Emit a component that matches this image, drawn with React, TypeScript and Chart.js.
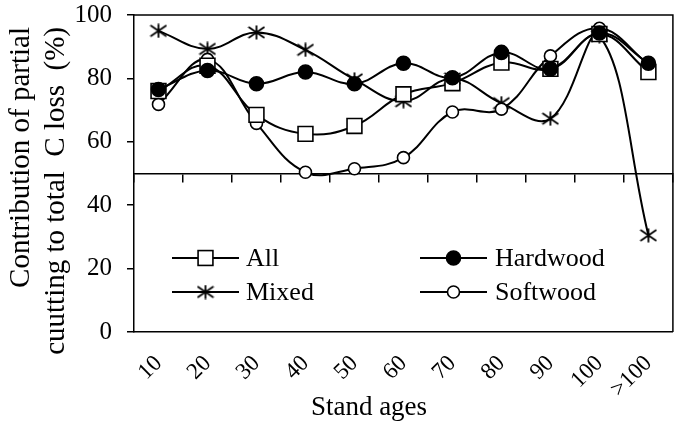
import React, { useEffect, useRef } from 'react';
import { Chart, registerables } from 'chart.js';

Chart.register(...registerables);

// ---- data ----
const categories = ['10', '20', '30', '40', '50', '60', '70', '80', '90', '100', '>100'];
const allValues = [76, 84, 68.5, 62.5, 65, 75, 78.5, 85, 83, 94, 82];
const hardwoodValues = [76.5, 82.5, 78.3, 82, 78.3, 84.8, 80.2, 88.2, 83, 94.3, 84.8];
const mixedValues = [95, 89.3, 94.5, 89, 79.7, 72.8, 80, 72.2, 67.3, 93.3, 30.5];
const softwoodValues = [71.8, 86, 65.8, 50.4, 51.5, 55, 69.4, 70.3, 87.1, 95.8, 84.5];
const seriesNames = ['All', 'Hardwood', 'Mixed', 'Softwood'];
const yTicks = [0, 20, 40, 60, 80, 100];
const axisCrossValue = 50;
const yTitle = ['Contribution of partial', 'cuutting to total  C loss  (%)'];
const xTitle = 'Stand ages';

const FONT = "'Liberation Serif', 'Times New Roman', serif";

function makeAsterisk(): HTMLCanvasElement {
  const c = document.createElement('canvas');
  c.width = 18;
  c.height = 15;
  const g = c.getContext('2d')!;
  g.strokeStyle = '#000';
  g.lineWidth = 1.8;
  g.beginPath();
  g.moveTo(9, 0.5);
  g.lineTo(9, 14.5);
  g.moveTo(1, 2);
  g.lineTo(17, 13);
  g.moveTo(1, 13);
  g.lineTo(17, 2);
  g.stroke();
  return c;
}

function drawMarker(ctx: CanvasRenderingContext2D, ds: any, x: number, y: number) {
  const style = ds.pointStyle;
  const r = ds.pointRadius;
  ctx.save();
  ctx.lineWidth = ds.pointBorderWidth;
  ctx.strokeStyle = '#000';
  ctx.fillStyle = ds.pointBackgroundColor;
  if (style === 'rect') {
    const s = r * Math.SQRT1_2;
    ctx.fillRect(x - s, y - s, 2 * s, 2 * s);
    ctx.strokeRect(x - s, y - s, 2 * s, 2 * s);
  } else if (style === 'circle') {
    ctx.beginPath();
    ctx.arc(x, y, r, 0, Math.PI * 2);
    ctx.fill();
    ctx.stroke();
  } else if (style && typeof style === 'object') {
    ctx.drawImage(style, x - style.width / 2, y - style.height / 2);
  }
  ctx.restore();
}

const framePlugin = {
  id: 'frame',
  beforeDatasetsDraw(chart: any) {
    const { ctx, chartArea } = chart;
    ctx.save();
    ctx.strokeStyle = '#000';
    ctx.lineWidth = 1.5;
    ctx.beginPath();
    ctx.moveTo(chartArea.left, chartArea.top);
    ctx.lineTo(chartArea.right, chartArea.top);
    ctx.lineTo(chartArea.right, chartArea.bottom);
    ctx.stroke();
    ctx.restore();
  },
};

const axisTitlesPlugin = {
  id: 'axisTitles',
  afterDraw(chart: any) {
    const { ctx, chartArea } = chart;
    ctx.save();
    ctx.fillStyle = '#000';
    // x title
    ctx.font = `27px ${FONT}`;
    ctx.textAlign = 'center';
    ctx.textBaseline = 'middle';
    ctx.fillText(xTitle, chartArea.left + 235, chartArea.bottom + 76);
    // y title (rotated, lines right-aligned towards the top)
    ctx.font = `29px ${FONT}`;
    ctx.textAlign = 'right';
    const lineXs = [21, 56];
    yTitle.forEach((line, i) => {
      ctx.save();
      ctx.translate(lineXs[i], chartArea.top + 12);
      ctx.rotate(-Math.PI / 2);
      ctx.fillText(line, 0, 0);
      ctx.restore();
    });
    ctx.restore();
  },
};

const insideLegendPlugin = {
  id: 'insideLegend',
  afterDatasetsDraw(chart: any) {
    const { ctx, chartArea } = chart;
    const colLine = [
      [38, 105],
      [286, 353],
    ];
    const colText = [112, 361];
    const rowY = [243, 277];
    chart.data.datasets.forEach((ds: any, i: number) => {
      const col = i % 2;
      const row = Math.floor(i / 2);
      const y = chartArea.top + rowY[row];
      const x0 = chartArea.left + colLine[col][0];
      const x1 = chartArea.left + colLine[col][1];
      ctx.save();
      ctx.strokeStyle = '#000';
      ctx.lineWidth = 2;
      ctx.beginPath();
      ctx.moveTo(x0, y);
      ctx.lineTo(x1, y);
      ctx.stroke();
      drawMarker(ctx, ds, (x0 + x1) / 2, y);
      ctx.fillStyle = '#000';
      ctx.font = `26px ${FONT}`;
      ctx.textBaseline = 'middle';
      ctx.textAlign = 'left';
      ctx.fillText(ds.label, chartArea.left + colText[col], y + 1);
      ctx.restore();
    });
  },
};

export default function App() {
  const canvasRef = useRef<HTMLCanvasElement | null>(null);

  useEffect(() => {
    const canvas = canvasRef.current;
    if (!canvas) return;
    const asterisk = makeAsterisk();
    const base = {
      borderColor: '#000',
      borderWidth: 2,
      tension: 0.4,
      pointBorderColor: '#000',
      pointBorderWidth: 1.6,
      xAxisID: 'x',
      yAxisID: 'y',
    };
    const chart = new Chart(canvas, {
      type: 'line',
      data: {
        labels: categories,
        datasets: [
          { ...base, label: seriesNames[0], data: allValues, pointStyle: 'rect', pointRadius: 10.5, pointBackgroundColor: '#fff', order: 1 },
          { ...base, label: seriesNames[1], data: hardwoodValues, pointStyle: 'circle', pointRadius: 7, pointBackgroundColor: '#000', order: 0 },
          { ...base, label: seriesNames[2], data: mixedValues, pointStyle: asterisk as any, pointRadius: 7, pointBackgroundColor: '#000', order: 3 },
          { ...base, label: seriesNames[3], data: softwoodValues, pointStyle: 'circle', pointRadius: 6, pointBackgroundColor: '#fff', order: 2 },
        ],
      },
      options: {
        responsive: false,
        animation: false,
        devicePixelRatio: 1,
        layout: { padding: { top: 0, right: 7, left: 0, bottom: 0 } },
        plugins: {
          legend: { display: false },
          tooltip: { enabled: false },
          title: { display: false },
        },
        scales: {
          x: {
            type: 'category',
            offset: true,
            grid: { display: false },
            border: { display: true, color: '#000', width: 1.5 },
            ticks: {
              color: '#000',
              font: { family: FONT, size: 23 },
              minRotation: 45,
              maxRotation: 45,
              autoSkip: false,
              padding: 10,
            },
            afterFit: (s: any) => {
              s.height = 98;
            },
          },
          x2: {
            type: 'category',
            labels: categories,
            offset: true,
            position: { y: axisCrossValue },
            ticks: { display: false },
            grid: {
              display: true,
              drawOnChartArea: false,
              drawTicks: true,
              tickLength: 8,
              offset: true,
              color: '#000',
              lineWidth: 1.5,
            },
            border: { display: true, color: '#000', width: 1.5 },
          },
          y: {
            min: 0,
            max: 100,
            afterBuildTicks: (s: any) => {
              s.ticks = yTicks.map((v) => ({ value: v }));
            },
            ticks: { color: '#000', font: { family: FONT, size: 25 }, padding: 15 },
            grid: {
              display: true,
              drawOnChartArea: false,
              drawTicks: true,
              tickLength: 7,
              color: '#000',
              lineWidth: 1.5,
            },
            border: { display: true, color: '#000', width: 1.5 },
            afterFit: (s: any) => {
              s.width = 134;
              s.paddingTop = 15;
              s.paddingBottom = 15;
            },
          },
        },
      } as any,
      plugins: [framePlugin, insideLegendPlugin, axisTitlesPlugin],
    });
    return () => chart.destroy();
  }, []);

  return (
    <div style={{ position: 'absolute', left: 0, top: 0, width: 685, height: 430 }}>
      <canvas ref={canvasRef} width={685} height={430} />
    </div>
  );
}
